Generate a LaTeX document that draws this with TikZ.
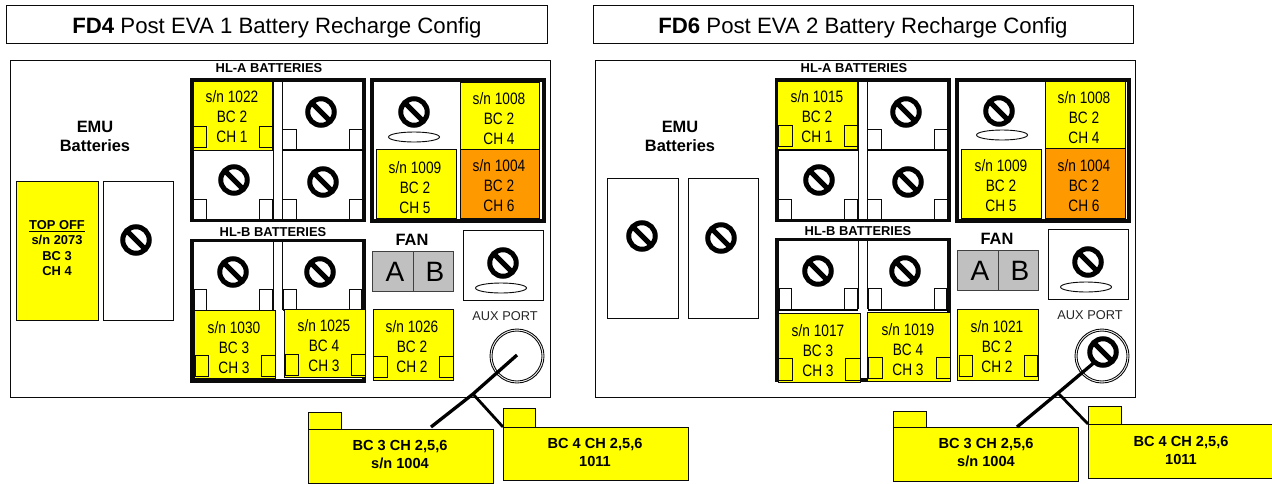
\documentclass[tikz,border=0pt]{standalone}
\usepackage{fontspec}
\setmainfont{Liberation Sans}
\newfontfamily\cellfont[FakeStretch=0.83]{Liberation Sans}
\definecolor{byel}{RGB}{255,255,0}
\definecolor{bora}{RGB}{255,153,0}
\definecolor{bgry}{RGB}{192,192,192}
\definecolor{bink}{RGB}{10,10,10}
\usetikzlibrary{shapes.geometric}
\tikzset{
  rct/.style={draw=bink,line width=0.95pt,inner sep=0pt,outer sep=0pt},
  thickframe/.style={rct,line width=3.2pt},
  yel/.style={rct,fill=byel},
  ora/.style={rct,fill=bora},
  fanbox/.style={draw=black!75,line width=1pt,fill=bgry,inner sep=0pt,outer sep=0pt},
  tabbox/.style={rct},
  noent/.style={circle,draw=black,line width=5pt,minimum size=26.5pt,inner sep=0pt,outer sep=0pt},
  slot/.style={ellipse,draw=bink,line width=0.9pt,fill=white,minimum width=51pt,minimum height=10pt,inner sep=0pt,outer sep=0pt},
  cabl/.style={line width=3.3pt,draw=black},
  txtcell/.style={font=\cellfont\fontsize{16.5}{20}\selectfont,align=center,anchor=base,inner sep=0pt},
  txthead/.style={font=\fontsize{12.9}{14}\selectfont\bfseries,inner sep=0pt},
  txtemu/.style={font=\fontsize{16.4}{19}\selectfont\bfseries,align=center,inner sep=0pt},
  txtfold/.style={font=\fontsize{14.6}{18}\selectfont\bfseries,align=center,inner sep=0pt},
  txttitle/.style={font=\fontsize{22.2}{24}\selectfont,inner sep=0pt},
}
% \bx{name}{x1}{y1}{x2}{y2}{style}
\newcommand\bx[6]{\node[#6,minimum width={(#4-#2)*1pt},minimum height={(#5-#3)*1pt}] (#1) at ({(#2+#4)/2},{(#3+#5)/2}) {};}
% \noe{name}{x}{y}
\newcommand\noe[3]{\node[noent] (#1) at (#2,#3) {};\draw[black,line width=5pt] (#1.135) -- (#1.-45);}
% \cel{name}{x}{baseline}{sn}{bc}{ch}
\newcommand\cel[6]{\node[txtcell] (#1) at (#2,#3+1) {s/n #4\\BC #5\\CH #6};}
% \tb{name}{x1}{y1}{x2}{y2}
\newcommand\tb[5]{\bx{#1}{#2}{#3}{#4}{#5}{tabbox}}
\newcommand\hlacommon[1]{%
  \bx{#1panel}{10}{60}{550}{397}{rct}
  \node[txtemu] (#1emu) at (95,136) {EMU\\Batteries};
  \node[txthead] (#1hla) at (269,68) {HL-A BATTERIES};
  \bx{#1afr}{192}{80}{364}{220.5}{thickframe}
  \draw[bink,line width=1pt] (273,81)--(273,219) (282,81)--(282,219);
  \draw[black,line width=1.6pt] (193,150)--(272.5,150) (282.5,150)--(363,150);
  \noe{#1an2}{321}{112}\noe{#1an3}{234}{180}\noe{#1an4}{323}{182}
  \tb{#1at1}{282.5}{129}{296}{149.5}\tb{#1at2}{349}{129}{363}{149.5}
  \tb{#1at3}{193.5}{199}{206}{219}\tb{#1at4}{259}{199}{272.5}{219}
  \tb{#1at5}{282.5}{199}{296}{219}\tb{#1at6}{349}{199}{363}{219}
  \bx{#1gfr}{372}{80}{544}{221}{thickframe}
}
\newcommand\hlbcommon[1]{%
  \node[txthead] (#1hlb) at (273,232) {HL-B BATTERIES};
  \bx{#1bfr}{192}{240.5}{364}{381}{thickframe}
  \draw[bink,line width=1pt] (273,242)--(273,310) (282,242)--(282,310);
  \noe{#1bn1}{233}{272}\noe{#1bn2}{320}{272}
  \tb{#1bt1}{194}{289}{206}{310}\tb{#1bt2}{259}{289}{272}{310}
  \tb{#1bt3}{283}{289}{296}{310}\tb{#1bt4}{349}{289}{361}{310}
  \node[txtemu] (#1fan) at (412,240) {FAN};
  \bx{#1fa}{372.5}{251}{413}{291}{fanbox}
  \bx{#1fb}{413}{251}{453}{291}{fanbox}
  \node[font=\fontsize{28}{28}\selectfont,inner sep=0pt] (#1fal) at (395,272) {A};
  \node[font=\fontsize{28}{28}\selectfont,inner sep=0pt] (#1fbl) at (435,272) {B};
  \bx{#1aux}{463}{230.5}{543}{300}{rct}
  \noe{#1an}{503}{263}
  \node[slot] (#1aus) at (501,288) {};
  \node[font=\fontsize{12.8}{14}\selectfont,inner sep=0pt,text=black!85] (#1aup) at (505,316) {AUX PORT};
}
\begin{document}
\begin{tikzpicture}[x=1pt,y=-1pt]
\useasboundingbox (0,0) rectangle (1272,483);
%% ---------- left ----------
\bx{ltitle}{6}{5}{547}{43}{rct}
\node[txttitle] (lttxt) at (277,28) {\textbf{FD4} Post EVA 1 Battery Recharge Config};
\hlacommon{l}
\bx{lt0}{16.5}{181}{98}{320}{yel}
\node[font=\fontsize{12.9}{15.5}\selectfont\bfseries,align=center,inner sep=0pt] (ltop) at (57,248) {\underline{TOP OFF}\\s/n 2073\\BC 3\\CH 4};
\bx{lt1}{103}{181}{173}{320}{rct}
\noe{lbn0}{136}{240}
\bx{lc1022}{193}{81}{272.5}{150}{yel}
\tb{lct1}{193}{126}{206}{147}\tb{lct2}{259}{126}{272.5}{147}
\cel{lt1022}{232}{141}{1022}{2}{1}
\noe{lgn}{414}{112}
\node[slot] (lgs) at (414,137) {};
\bx{lc1008}{460}{82}{539}{149}{yel}
\cel{lt1008}{499}{143}{1008}{2}{4}
\bx{lc1009}{376}{149}{456}{218}{yel}
\cel{lt1009}{415}{212}{1009}{2}{5}
\bx{lc1004}{460}{149}{539}{218}{ora}
\cel{lt1004}{499}{210}{1004}{2}{6}
\hlbcommon{l}
\bx{lc1030}{194.5}{310}{275.5}{378}{yel}
\tb{lct3}{195}{355}{208}{376}\tb{lct4}{261}{355}{275.5}{376}
\cel{lt1030}{234}{372}{1030}{3}{3}
\bx{lc1025}{284}{309}{365.5}{377}{yel}
\tb{lct5}{285}{354}{298}{375}\tb{lct6}{351}{354}{365.5}{375}
\cel{lt1025}{324}{370}{1025}{4}{3}
\bx{lc1026}{373}{309}{453}{380}{yel}
\tb{lct7}{373}{356}{387}{377}\tb{lct8}{439}{356}{453}{377}
\cel{lt1026}{412}{371}{1026}{2}{2}
\node[circle,draw=bink,line width=.9pt,minimum size=54pt,inner sep=0pt,outer sep=0pt] (lport) at (517,356) {};
\node[circle,draw=bink,line width=.9pt,minimum size=50pt,inner sep=0pt,outer sep=0pt] (lporti) at (517,356) {};
\bx{lfa}{308}{412}{341}{429}{yel}
\bx{lf1}{308}{429}{493}{483}{yel}
\node[txtfold] (lf1t) at (400,455) {BC 3 CH 2,5,6\\s/n 1004};
\bx{lfb}{503}{408}{535.5}{427}{yel}
\bx{lf2}{503}{427}{688}{480}{yel}
\node[txtfold] (lf2t) at (595,452) {BC 4 CH 2,5,6\\1011};
\coordinate (lj) at (473,394);
\coordinate (la) at (431,427);
\draw[cabl] (lport.center) ++(0,-1) -- (lj) -- (la);
\draw[cabl,line width=2.8pt] (lj) -- (lf2.north west);
%% ---------- right ----------
\bx{rtitle}{593}{5}{1133}{43}{rct}
\node[txttitle] (rttxt) at (863,28) {\textbf{FD6} Post EVA 2 Battery Recharge Config};
\begin{scope}[xshift=585pt]
\hlacommon{r}
\end{scope}
\bx{rt0}{607}{178}{678}{318}{rct}
\noe{rbn0}{642}{236}
\bx{rt1}{688}{178}{758}{318}{rct}
\noe{rbn1}{721}{238}
\bx{rc1015}{777.5}{81}{857.5}{149}{yel}
\tb{rct1}{778}{125}{792}{146}\tb{rct2}{844}{125}{857.5}{146}
\cel{rt1015}{817}{141}{1015}{2}{1}
\noe{rgn}{999}{111}
\node[slot] (rgs) at (1002,135) {};
\bx{rc1008}{1045}{81}{1125}{148}{yel}
\cel{rt1008}{1084}{142}{1008}{2}{4}
\bx{rc1009}{961}{149}{1041}{218}{yel}
\cel{rt1009}{1001}{210}{1009}{2}{5}
\bx{rc1004}{1045}{148}{1125}{218}{ora}
\cel{rt1004}{1084}{210}{1004}{2}{6}
\begin{scope}[xshift=585pt,yshift=1pt]
\hlbcommon{r}
\end{scope}
\draw[black,line width=2pt] (778,310)--(858,310) (868,310)--(948,310);
\bx{rc1017}{778}{313}{860}{382}{yel}
\tb{rct3}{778.5}{358}{792}{380}\tb{rct4}{845}{358}{860}{380}
\cel{rt1017}{818}{375}{1017}{3}{3}
\bx{rc1019}{867}{312}{950}{381}{yel}
\tb{rct5}{868}{357}{882}{378}\tb{rct6}{936}{357}{950}{378}
\cel{rt1019}{908}{374}{1019}{4}{3}
\bx{rc1021}{957.5}{309}{1038}{380}{yel}
\tb{rct7}{959}{355}{972}{376}\tb{rct8}{1024}{355}{1037}{376}
\cel{rt1021}{997}{371}{1021}{2}{2}
\node[circle,draw=bink,line width=.9pt,minimum size=54pt,inner sep=0pt,outer sep=0pt] (rport) at (1102,356) {};
\node[circle,draw=bink,line width=.9pt,minimum size=50pt,inner sep=0pt,outer sep=0pt] (rporti) at (1102,356) {};
\noe{rpn}{1103}{352}
\bx{rfa}{893}{411}{926}{427}{yel}
\bx{rf1}{893}{427}{1078}{481}{yel}
\node[txtfold] (rf1t) at (986,453) {BC 3 CH 2,5,6\\s/n 1004};
\bx{rfb}{1088}{406}{1121}{424}{yel}
\bx{rf2}{1088}{424}{1274}{478}{yel}
\node[txtfold] (rf2t) at (1181,450) {BC 4 CH 2,5,6\\1011};
\coordinate (rj) at (1058,393);
\coordinate (ra) at (1017,427);
\draw[cabl] (rpn.center) ++(-7,9) -- (rj) -- (ra);
\draw[cabl,line width=2.8pt] (rj) -- (rf2.north west);
\end{tikzpicture}
\end{document}
